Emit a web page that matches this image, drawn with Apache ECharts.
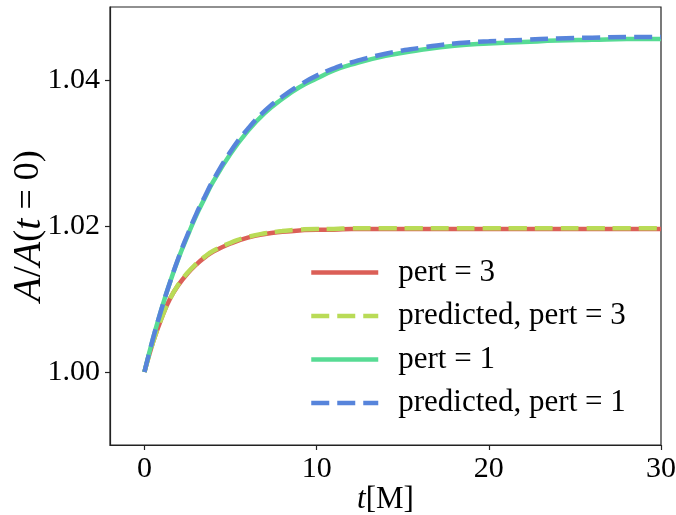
<!DOCTYPE html>
<html>
<head>
<meta charset="utf-8">
<script src="https://cdn.jsdelivr.net/npm/echarts@6/dist/echarts.min.js"></script>
<style>html,body{margin:0;padding:0;background:#fff}#c{width:676px;height:515px}</style>
</head>
<body>
<div id="c"></div>
<script>
var tValues = [0, 0.5, 1, 1.5, 2, 2.5, 3, 3.5, 4, 5, 6, 7, 8, 9, 10, 11, 12, 14, 16, 18, 20, 22, 24, 26, 28, 30];
var pert3 = [1.0000, 1.0041, 1.0074, 1.0101, 1.0120, 1.0135, 1.0147, 1.0157, 1.0165, 1.0176, 1.0184, 1.0189, 1.0192, 1.0194, 1.0195, 1.0195, 1.0196, 1.0196, 1.0196, 1.0196, 1.0196, 1.0196, 1.0196, 1.0196, 1.0196, 1.0196];
var predPert3 = [1.0000, 1.0041, 1.0074, 1.0101, 1.0121, 1.0136, 1.0148, 1.0158, 1.0166, 1.0177, 1.0185, 1.0190, 1.0193, 1.0195, 1.0196, 1.0196, 1.0197, 1.0197, 1.0197, 1.0197, 1.0197, 1.0197, 1.0197, 1.0197, 1.0197, 1.0197];
var pert1 = [1.0000, 1.0046, 1.0087, 1.0124, 1.0157, 1.0186, 1.0214, 1.0238, 1.0261, 1.0299, 1.0330, 1.0355, 1.0374, 1.0390, 1.0402, 1.0413, 1.0421, 1.0433, 1.0441, 1.0447, 1.0450, 1.0452, 1.0454, 1.0455, 1.0456, 1.0456];
var predPert1 = [1.0000, 1.0046, 1.0087, 1.0124, 1.0158, 1.0188, 1.0216, 1.0240, 1.0263, 1.0302, 1.0333, 1.0358, 1.0377, 1.0393, 1.0406, 1.0416, 1.0424, 1.0436, 1.0444, 1.0450, 1.0453, 1.0455, 1.0457, 1.0458, 1.0459, 1.0459];
var seriesNames = ['pert = 3', 'predicted, pert = 3', 'pert = 1', 'predicted, pert = 1'];
var xTicks = [0, 10, 20, 30];
var yTicks = [1.00, 1.02, 1.04];

function pairs(ys) { return tValues.map(function (t, i) { return [t, ys[i]]; }); }
var colors = ['#db5f57', '#b9db57', '#57db94', '#5784db'];
var dataSets = [pert3, predPert3, pert1, predPert1];
var dashed = [false, true, false, true];
var FONT = '"Liberation Serif", "DejaVu Serif", serif';

var chart = echarts.init(document.getElementById('c'), null, {renderer: 'canvas'});
chart.setOption({
  animation: false,
  backgroundColor: '#fff',
  grid: {left: 110, right: 15, top: 7, bottom: 70, containLabel: false, outerBoundsMode: 'none',
         show: true, borderColor: '#222', borderWidth: 1.2, backgroundColor: 'transparent'},
  xAxis: {
    type: 'value', min: -2, max: 30,
    axisLine: {show: true, onZero: false, lineStyle: {color: '#222', width: 1.2}},
    axisTick: {show: true, length: 5, customValues: xTicks, lineStyle: {color: '#222', width: 1.2}},
    axisLabel: {customValues: xTicks, margin: 9, color: '#000', fontFamily: FONT, fontSize: 30},
    splitLine: {show: false},
    name: '{i|t}[M]', nameLocation: 'middle', nameGap: 39, nameMoveOverlap: false,
    nameTextStyle: {color: '#000', fontFamily: FONT, fontSize: 31,
      rich: {i: {fontStyle: 'italic', fontFamily: FONT, fontSize: 31, color: '#000'}}}
  },
  yAxis: {
    type: 'value', min: 0.99, max: 1.05,
    axisLine: {show: true, onZero: false, lineStyle: {color: '#222', width: 1.2}},
    axisTick: {show: true, length: 5, customValues: yTicks, lineStyle: {color: '#222', width: 1.2}},
    axisLabel: {customValues: yTicks, margin: 10, color: '#000', fontFamily: FONT, fontSize: 30,
      formatter: function (v) { return v.toFixed(2); }},
    splitLine: {show: false},
    name: '{i|A}{s|/}{i|A}({i|t} = 0)', nameLocation: 'middle', nameRotate: 90, nameGap: 61, nameMoveOverlap: false,
    nameTextStyle: {color: '#000', fontFamily: FONT, fontSize: 36,
      rich: {i: {fontStyle: 'italic', fontFamily: FONT, fontSize: 40, color: '#000'},
             s: {fontFamily: FONT, fontSize: 40, color: '#000'}}}
  },
  legend: {
    orient: 'vertical', left: 304, top: 252,
    itemWidth: 67, itemHeight: 14, itemGap: 12.5,
    data: seriesNames,
    itemStyle: {opacity: 0, borderWidth: 0},
    lineStyle: {width: 4.5},
    textStyle: {color: '#000', fontFamily: FONT, fontSize: 31, lineHeight: 30, padding: [0, 0, 0, 15]}
  },
  series: seriesNames.map(function (name, i) {
    return {
      name: name, type: 'line', data: pairs(dataSets[i]), smooth: true,
      showSymbol: false, symbol: 'none', z: 2 + i,
      lineStyle: {color: colors[i], width: 4.5, type: dashed[i] ? [18, 8] : 'solid', cap: 'butt'},
      itemStyle: {color: colors[i]}
    };
  })
});
</script>
</body>
</html>
